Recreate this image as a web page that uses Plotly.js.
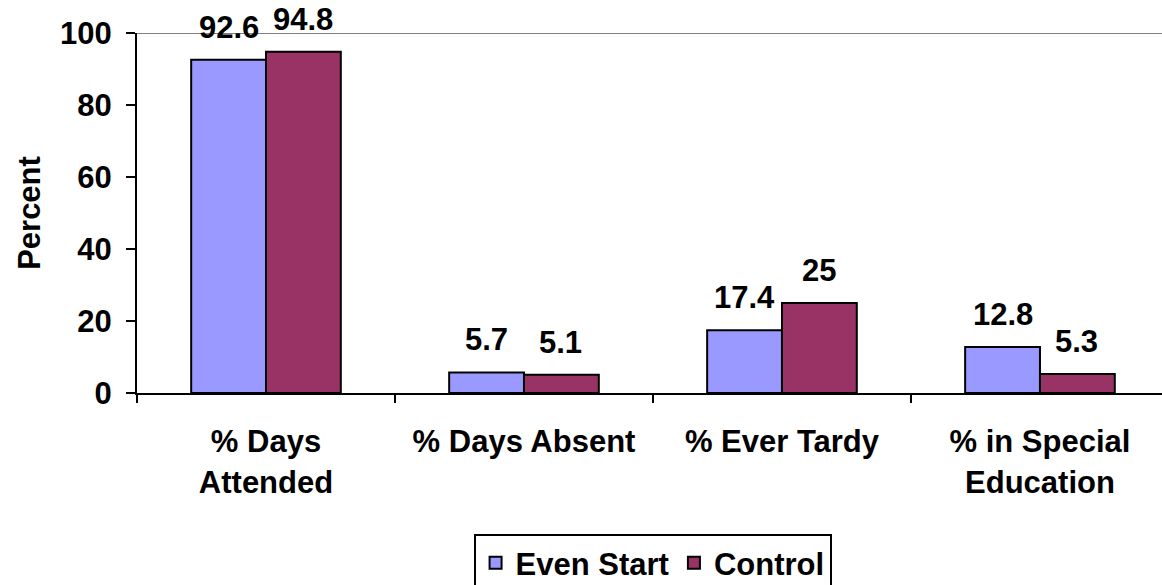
<!DOCTYPE html>
<html>
<head>
<meta charset="utf-8">
<script src="https://cdn.plot.ly/plotly-3.0.1.min.js"></script>
<style>
  html, body { margin: 0; padding: 0; background: #fff; overflow: hidden; }
</style>
</head>
<body>
<div id="chart" style="width:1162px;height:605px;"></div>
<script>
// categories and series
var categories = ["% Days<br>Attended", "% Days Absent", "% Ever Tardy", "% in Special<br>Education"];
var evenStart = [92.6, 5.7, 17.4, 12.8];
var control = [94.8, 5.1, 25, 5.3];
var yTicks = [0, 20, 40, 60, 80, 100];

var boldFont = {family: "Liberation Sans, Arial, sans-serif", size: 31, color: "#000", weight: "bold"};

var idx = categories.map(function (c, i) { return i; });

var trace1 = {
    x: idx,
    y: evenStart,
    name: "Even Start",
    type: "bar",
    marker: {color: "#9999FF", line: {color: "#000", width: 2}}
};
var trace2 = {
    x: idx,
    y: control,
    name: "Control",
    type: "bar",
    marker: {color: "#993366", line: {color: "#000", width: 2}}
};

// value labels above each bar
var annotations = [];
[evenStart, control].forEach(function (series, s) {
    series.forEach(function (v, i) {
        annotations.push({
            x: i, y: v, xref: "x", yref: "y",
            text: String(v),
            showarrow: false,
            xanchor: "center", yanchor: "bottom",
            xshift: s === 0 ? -37 : 37,
            yshift: 13,
            font: boldFont
        });
    });
});

// the figure runs a little past the bottom of the window so the legend box is cut off like the original
var layout = {
    width: 1162,
    height: 605,
    margin: {l: 137, r: 0, t: 33, b: 212},
    paper_bgcolor: "#fff",
    plot_bgcolor: "#fff",
    barmode: "group",
    bargap: 0.42,
    bargroupgap: 0,
    showlegend: true,
    legend: {
        orientation: "h",
        x: 0.503, xanchor: "center",
        y: -0.392, yanchor: "top",
        bordercolor: "#000",
        borderwidth: 2,
        font: boldFont,
        itemwidth: 30
    },
    xaxis: {
        type: "linear",
        range: [-0.5, 3.473],
        tickmode: "array",
        tickvals: idx,
        ticktext: categories,
        ticks: "",
        showline: true,
        linecolor: "#000",
        linewidth: 2,
        showgrid: false,
        zeroline: false,
        tickfont: boldFont,
        ticklabelstandoff: 20
    },
    xaxis2: {
        overlaying: "x",
        range: [-0.5, 3.473],
        tickmode: "array",
        tickvals: [-0.5, 0.5, 1.5, 2.5],
        showticklabels: false,
        ticks: "outside",
        ticklen: 9,
        tickwidth: 2,
        tickcolor: "#000",
        showgrid: false,
        zeroline: false,
        side: "bottom",
        anchor: "y"
    },
    yaxis: {
        range: [0, 100],
        tickmode: "array",
        tickvals: yTicks,
        ticks: "outside",
        ticklen: 9,
        tickwidth: 2,
        tickcolor: "#000",
        showline: true,
        linecolor: "#000",
        linewidth: 2,
        showgrid: false,
        zeroline: false,
        tickfont: boldFont,
        ticklabelstandoff: 8,
        title: {text: "Percent", font: boldFont, standoff: 10}
    },
    shapes: [{
        type: "line", xref: "paper", yref: "y",
        x0: 0, x1: 1, y0: 100, y1: 100,
        line: {color: "#808080", width: 2},
        layer: "below"
    }],
    annotations: annotations
};

// empty trace to carry the boundary ticks on xaxis2
var tickCarrier = {x: [], y: [], xaxis: "x2", yaxis: "y", type: "scatter", showlegend: false, hoverinfo: "skip"};

Plotly.newPlot("chart", [trace1, trace2, tickCarrier], layout, {displayModeBar: false, staticPlot: true});
</script>
</body>
</html>
